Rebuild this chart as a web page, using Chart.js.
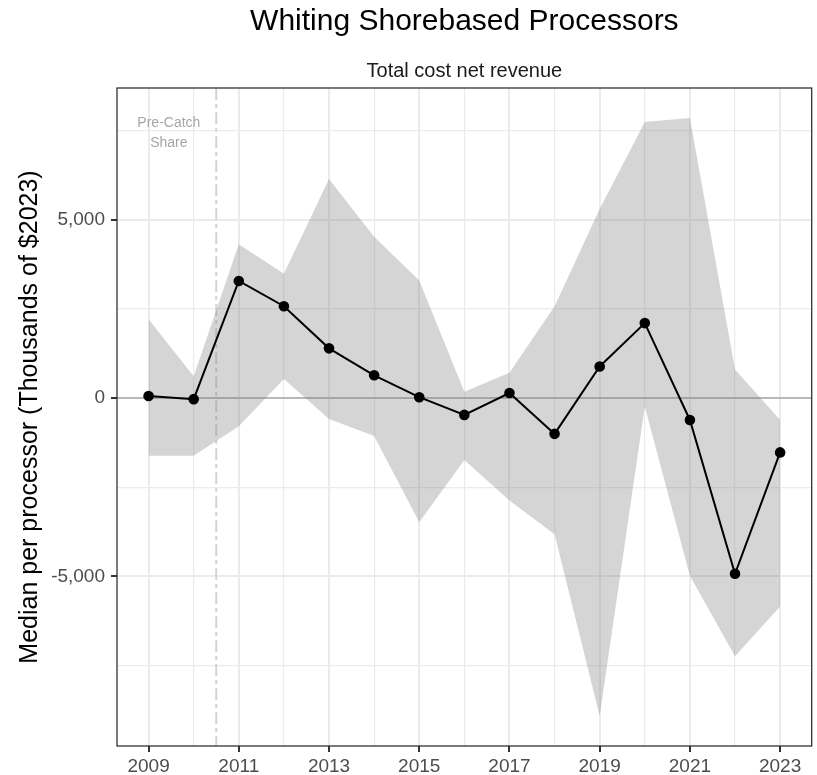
<!DOCTYPE html>
<html>
<head>
<meta charset="utf-8">
<title>Whiting Shorebased Processors</title>
<script src="https://cdn.jsdelivr.net/npm/chart.js@4/dist/chart.umd.min.js"></script>
<style>
  html, body { margin: 0; padding: 0; background: #ffffff; }
  #wrap { width: 817px; height: 775px; }
</style>
</head>
<body>
<div id="wrap"><canvas id="chart" width="817" height="775"></canvas></div>
<script>
// Median total cost net revenue per processor (thousands of 2023 dollars)
const years  = [2009, 2010, 2011, 2012, 2013, 2014, 2015, 2016, 2017, 2018, 2019, 2020, 2021, 2022, 2023];
const median = [59, -30, 3283, 2575, 1394, 638, 24, -472, 142, -1004, 886, 2102, -614, -4925, -1523];
const upper  = [2208, 614, 4311, 3484, 6141, 4523, 3295, 177, 709, 2575, 5300, 7736, 7854, 803, -614];
const lower  = [-1618, -1618, -791, 531, -590, -1063, -3484, -1736, -2870, -3815, -8916, -236, -4985, -7240, -5846];

const yTicks = [-7500, -5000, -2500, 0, 2500, 5000, 7500];
const yLabelTicks = [-5000, 0, 5000];
const xLabelYears = [2009, 2011, 2013, 2015, 2017, 2019, 2021, 2023];

const titleText = 'Whiting Shorebased Processors';
const subtitleText = 'Total cost net revenue';
const yTitleText = 'Median per processor (Thousands of $2023)';
const catchShareYear = 2010.5;
const preLabel = ['Pre-Catch', 'Share'];

const FONT = "'Liberation Sans', Arial, Helvetica, sans-serif";
Chart.defaults.font.family = FONT;

// ggplot-style 5% expansion of the data range
const allVals = upper.concat(lower, median);
const dMin = Math.min(...allVals), dMax = Math.max(...allVals);
const yPad = (dMax - dMin) * 0.05;
const xPad = (years[years.length - 1] - years[0]) * 0.05;

const toPts = arr => years.map((x, i) => ({ x: x, y: arr[i] }));

const isMajorX = v => xLabelYears.includes(v);
const isMajorY = v => yLabelTicks.includes(v);

const decor = {
  id: 'decor',
  beforeDatasetsDraw(chart) {
    const { ctx, chartArea: a, scales: { x, y } } = chart;
    ctx.save();
    ctx.beginPath();
    ctx.rect(a.left, a.top, a.right - a.left, a.bottom - a.top);
    ctx.clip();
    // zero reference line
    const y0 = y.getPixelForValue(0);
    ctx.strokeStyle = '#b8b8b8';
    ctx.lineWidth = 2;
    ctx.beginPath();
    ctx.moveTo(a.left, y0);
    ctx.lineTo(a.right, y0);
    ctx.stroke();
    // catch share start
    const xv = x.getPixelForValue(catchShareYear);
    ctx.strokeStyle = '#d4d4d4';
    ctx.lineWidth = 2;
    ctx.setLineDash([12, 4, 4, 4]);
    ctx.beginPath();
    ctx.moveTo(xv, a.top);
    ctx.lineTo(xv, a.bottom);
    ctx.stroke();
    ctx.setLineDash([]);
    // annotation
    ctx.fillStyle = '#a6a6a6';
    ctx.font = '14px ' + FONT;
    ctx.textAlign = 'center';
    ctx.textBaseline = 'middle';
    const tx = x.getPixelForValue(2009.45);
    const ty = y.getPixelForValue(7720);
    ctx.fillText(preLabel[0], tx, ty);
    ctx.fillText(preLabel[1], tx, ty + 20.5);
    ctx.restore();
  },
  afterDraw(chart) {
    const { ctx, chartArea: a } = chart;
    ctx.save();
    // panel border
    ctx.strokeStyle = '#333333';
    ctx.lineWidth = 1.3;
    ctx.strokeRect(a.left, a.top, a.right - a.left, a.bottom - a.top);
    // titles centred over the panel
    const cx = (a.left + a.right) / 2;
    ctx.textAlign = 'center';
    ctx.textBaseline = 'middle';
    ctx.fillStyle = '#000000';
    ctx.font = '30px ' + FONT;
    ctx.fillText(titleText, cx, 22);
    ctx.fillStyle = '#1a1a1a';
    ctx.font = '20px ' + FONT;
    ctx.fillText(subtitleText, cx, 71);
    ctx.restore();
  }
};

new Chart(document.getElementById('chart'), {
  type: 'line',
  data: {
    datasets: [
      {
        label: 'upper',
        data: toPts(upper),
        borderWidth: 0,
        pointRadius: 0,
        fill: false,
        order: 2
      },
      {
        label: 'lower',
        data: toPts(lower),
        borderWidth: 0,
        pointRadius: 0,
        backgroundColor: 'rgba(127,127,127,0.33)',
        fill: '-1',
        order: 1
      },
      {
        label: 'median',
        data: toPts(median),
        borderColor: '#000000',
        borderWidth: 2,
        backgroundColor: '#000000',
        pointBackgroundColor: '#000000',
        pointBorderColor: '#000000',
        pointRadius: 5.3,
        pointBorderWidth: 0,
        fill: false,
        tension: 0,
        order: 0
      }
    ]
  },
  plugins: [decor],
  options: {
    responsive: false,
    animation: false,
    devicePixelRatio: 1,
    layout: { padding: { top: 88, right: 3, left: 0, bottom: 0 } },
    plugins: {
      legend: { display: false },
      tooltip: { enabled: false },
      title: { display: false }
    },
    scales: {
      x: {
        type: 'linear',
        min: years[0] - xPad,
        max: years[years.length - 1] + xPad,
        afterBuildTicks: s => { s.ticks = years.map(v => ({ value: v })); },
        afterFit: s => { s.height = 29; s.paddingLeft = 0; s.paddingRight = 0; },
        border: { display: false },
        grid: {
          color: '#ebebeb',
          lineWidth: c => (c.tick && isMajorX(c.tick.value)) ? 2 : 1.2,
          tickColor: c => (c.tick && isMajorX(c.tick.value)) ? '#333333' : 'rgba(0,0,0,0)',
          tickLength: 6,
          tickWidth: 2
        },
        ticks: {
          autoSkip: false,
          maxRotation: 0,
          padding: 3,
          color: '#4d4d4d',
          font: { size: 19 },
          callback: v => isMajorX(v) ? String(v) : ''
        }
      },
      y: {
        type: 'linear',
        min: dMin - yPad,
        max: dMax + yPad,
        afterBuildTicks: s => { s.ticks = yTicks.map(v => ({ value: v })); },
        afterFit: s => { s.width = 117; },
        border: { display: false },
        grid: {
          color: '#ebebeb',
          lineWidth: c => (c.tick && isMajorY(c.tick.value)) ? 2 : 1.2,
          tickColor: c => (c.tick && isMajorY(c.tick.value)) ? '#333333' : 'rgba(0,0,0,0)',
          tickLength: 6,
          tickWidth: 2
        },
        ticks: {
          autoSkip: false,
          padding: 6,
          color: '#4d4d4d',
          font: { size: 19 },
          callback: v => isMajorY(v) ? v.toLocaleString('en-US') : ''
        },
        title: {
          display: true,
          text: yTitleText,
          color: '#000000',
          font: { size: 25 },
          padding: { top: 15, bottom: 0 }
        }
      }
    }
  }
});
</script>
</body>
</html>
